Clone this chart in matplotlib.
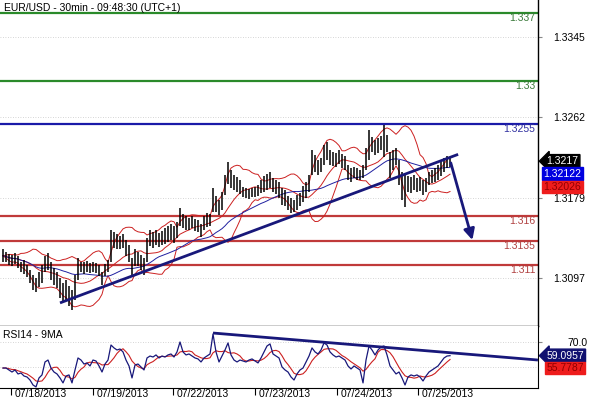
import numpy as np
import pandas as pd
import matplotlib
matplotlib.use("Agg")
import matplotlib.pyplot as plt

plt.rcParams['font.family'] = ['Liberation Sans', 'DejaVu Sans']

# EUR/USD 30min bars (one bar every ~3 px)
highs = [
    1.3126, 1.3123, 1.3121, 1.3120, 1.3122, 1.3119, 1.3113, 1.3115, 1.3110, 1.3105,
    1.3100, 1.3097, 1.3103, 1.3110, 1.3119, 1.3122, 1.3113, 1.3107, 1.3103, 1.3097,
    1.3092, 1.3095, 1.3088, 1.3084, 1.3100, 1.3117, 1.3113, 1.3113, 1.3114, 1.3112,
    1.3113, 1.3112, 1.3110, 1.3103, 1.3111, 1.3115, 1.3146, 1.3144, 1.3142, 1.3140,
    1.3142, 1.3136, 1.3131, 1.3117, 1.3126, 1.3123, 1.3120, 1.3117, 1.3138, 1.3146,
    1.3144, 1.3146, 1.3143, 1.3145, 1.3148, 1.3150, 1.3152, 1.3150, 1.3154, 1.3169,
    1.3163, 1.3160, 1.3158, 1.3161, 1.3157, 1.3156, 1.3152, 1.3161, 1.3164, 1.3163,
    1.3189, 1.3181, 1.3177, 1.3185, 1.3203, 1.3216, 1.3208, 1.3203, 1.3201, 1.3198,
    1.3190, 1.3189, 1.3188, 1.3189, 1.3190, 1.3192, 1.3198, 1.3202, 1.3204, 1.3206,
    1.3200, 1.3198, 1.3196, 1.3189, 1.3187, 1.3181, 1.3179, 1.3177, 1.3182, 1.3184,
    1.3191, 1.3196, 1.3203, 1.3229, 1.3223, 1.3218, 1.3220, 1.3234, 1.3237, 1.3229,
    1.3226, 1.3225, 1.3229, 1.3224, 1.3222, 1.3213, 1.3210, 1.3211, 1.3210, 1.3208,
    1.3213, 1.3231, 1.3249, 1.3242, 1.3239, 1.3241, 1.3243, 1.3254, 1.3244, 1.3226,
    1.3229, 1.3231, 1.3218, 1.3206, 1.3203, 1.3202, 1.3201, 1.3203, 1.3200, 1.3201,
    1.3198, 1.3200, 1.3206, 1.3208, 1.3210, 1.3213, 1.3218, 1.3220, 1.3222, 1.3221,
]
lows = [
    1.3113, 1.3113, 1.3110, 1.3109, 1.3111, 1.3107, 1.3103, 1.3101, 1.3098, 1.3092,
    1.3084, 1.3082, 1.3087, 1.3092, 1.3103, 1.3105, 1.3095, 1.3089, 1.3086, 1.3076,
    1.3072, 1.3074, 1.3068, 1.3064, 1.3074, 1.3095, 1.3103, 1.3101, 1.3103, 1.3102,
    1.3103, 1.3102, 1.3099, 1.3089, 1.3099, 1.3103, 1.3113, 1.3128, 1.3126, 1.3126,
    1.3128, 1.3119, 1.3113, 1.3098, 1.3109, 1.3109, 1.3105, 1.3100, 1.3113, 1.3130,
    1.3128, 1.3131, 1.3129, 1.3131, 1.3132, 1.3134, 1.3136, 1.3133, 1.3138, 1.3150,
    1.3148, 1.3146, 1.3146, 1.3148, 1.3145, 1.3144, 1.3139, 1.3146, 1.3149, 1.3150,
    1.3165, 1.3165, 1.3162, 1.3167, 1.3182, 1.3193, 1.3189, 1.3187, 1.3185, 1.3183,
    1.3180, 1.3179, 1.3178, 1.3180, 1.3180, 1.3181, 1.3184, 1.3185, 1.3187, 1.3189,
    1.3185, 1.3183, 1.3179, 1.3172, 1.3171, 1.3167, 1.3164, 1.3165, 1.3167, 1.3171,
    1.3175, 1.3179, 1.3185, 1.3203, 1.3206, 1.3203, 1.3206, 1.3213, 1.3218, 1.3213,
    1.3212, 1.3211, 1.3214, 1.3210, 1.3208, 1.3198, 1.3196, 1.3200, 1.3198, 1.3198,
    1.3200, 1.3208, 1.3218, 1.3226, 1.3223, 1.3225, 1.3229, 1.3221, 1.3226, 1.3200,
    1.3208, 1.3213, 1.3192, 1.3177, 1.3170, 1.3185, 1.3184, 1.3187, 1.3185, 1.3186,
    1.3182, 1.3185, 1.3192, 1.3194, 1.3196, 1.3198, 1.3202, 1.3206, 1.3210, 1.3211,
]
rsi = [
    48.9, 48.9, 47.3, 45.6, 47.3, 44.0, 44.8, 42.3, 41.5, 39.0,
    34.9, 33.3, 40.7, 43.2, 53.9, 55.5, 48.9, 45.6, 44.0, 40.7,
    36.6, 42.3, 43.2, 36.6, 47.3, 57.2, 55.5, 52.2, 53.1, 50.6,
    55.5, 54.7, 50.6, 45.6, 52.2, 55.5, 67.9, 65.5, 63.8, 64.6,
    62.2, 55.5, 50.6, 40.7, 51.4, 52.2, 49.8, 47.3, 57.2, 58.8,
    58.0, 59.7, 57.2, 58.8, 58.0, 59.7, 60.5, 58.0, 62.2, 70.4,
    62.2, 59.7, 60.5, 58.8, 57.2, 56.4, 53.9, 57.2, 58.8, 60.5,
    77.0, 62.2, 53.9, 58.8, 63.8, 69.6, 59.7, 55.5, 53.9, 55.5,
    54.7, 53.9, 55.5, 56.4, 54.7, 53.1, 57.2, 62.2, 67.1, 68.8,
    60.5, 58.8, 57.2, 49.8, 47.3, 45.6, 41.5, 39.0, 44.0, 47.3,
    48.9, 53.9, 58.8, 65.5, 62.2, 60.5, 63.8, 69.6, 67.9, 62.2,
    59.7, 58.0, 58.8, 57.2, 55.5, 50.6, 48.1, 50.6, 48.9, 47.3,
    36.6, 55.5, 67.1, 63.8, 59.7, 63.8, 66.3, 67.1, 59.7, 50.6,
    47.3, 44.0, 45.6, 40.7, 34.9, 41.5, 43.2, 42.3, 43.2, 41.5,
    38.2, 42.3, 45.6, 47.3, 48.9, 50.6, 53.9, 57.2, 58.8, 59.1,
]

green_levels = [1.337, 1.33]
blue_levels = [1.3255]
red_levels = [1.316, 1.3135, 1.311]
price_ticks = [1.3345, 1.3262, 1.3179, 1.3097]
rsi_ticks = [70.0]
rsi_grid = [70.0, 50.0]
date_labels = ['07/18/2013', '07/19/2013', '07/22/2013', '07/23/2013', '07/24/2013', '07/25/2013']
date_bars = [2.7, 30.0, 56.7, 84.0, 111.3, 138.3]

# hand drawn lines (bar index, value)
support_x = [19, 151.7]
support_y = [1.3071, 1.3224]
arrow_start = (149, 1.3218)
arrow_end = (156.7, 1.3133)
rsi_trend_x = [70, 178.3]
rsi_trend_y = [77.8, 55.5]

last_price = '1.3217'
ma_last = '1.32122'
bb_last = '1.32026'
rsi_last = '59.0957'
rsi_ma_last = '55.7787'

navy = '#18187a'
red = '#c03a3a'
green = '#2a8a2a'
blue = '#1a1aa8'

x = np.arange(len(highs))
mid = (np.array(highs) + np.array(lows)) / 2
s = pd.Series(mid)
bb_mid = s.rolling(11, min_periods=1).mean()
bb_std = s.rolling(11, min_periods=1).std(ddof=0)
slow_ma = s.rolling(28, min_periods=1).mean()
rsi_ma = pd.Series(rsi).rolling(5, min_periods=1).mean()

fig = plt.figure(figsize=(5.9, 4.0), dpi=100)
ax = fig.add_axes([0, 0.185, 0.9119, 0.815])
ax2 = fig.add_axes([0, 0.03, 0.9119, 0.155])

# price panel
ax.vlines(x, lows, highs, color='black', lw=1.1, zorder=3)
ax.plot(x, bb_mid + 2 * bb_std, color='#cc2020', lw=0.7, zorder=2)
ax.plot(x, bb_mid, color='#cc2020', lw=0.7, zorder=2)
ax.plot(x, bb_mid - 2 * bb_std, color='#cc2020', lw=0.7, zorder=2)
ax.plot(x, slow_ma, color='#2020a0', lw=0.7, zorder=2)

for lv in green_levels:
    ax.axhline(lv, color=green, lw=1.6, zorder=1)
    ax.text(0.995, lv, f'{lv:g}', color='#3a7a3a', fontsize=7.5, ha='right', va='top',
            transform=ax.get_yaxis_transform())
for lv in blue_levels:
    ax.axhline(lv, color=blue, lw=1.6, zorder=1)
    ax.text(0.995, lv, f'{lv:g}', color='#3030a0', fontsize=7.5, ha='right', va='top',
            transform=ax.get_yaxis_transform())
for lv in red_levels:
    ax.axhline(lv, color=red, lw=1.6, zorder=1)
    ax.text(0.995, lv, f'{lv:g}', color='#b04040', fontsize=7.5, ha='right', va='top',
            transform=ax.get_yaxis_transform())

ax.plot(support_x, support_y, color=navy, lw=2.0, zorder=4, solid_capstyle='butt')
ax.annotate('', xy=arrow_end, xytext=arrow_start, zorder=4,
            arrowprops=dict(arrowstyle='-|>', color=navy, lw=2.0, mutation_scale=16))

ax.set_xlim(-1, 178.33)
ax.set_ylim(1.30472, 1.33830)
ax.set_yticks(price_ticks)
ax.set_yticklabels([f'{t:.4f}' for t in price_ticks])
ax.yaxis.tick_right()
ax.tick_params(axis='y', length=3, pad=8, labelsize=7.5, color='#888888')
ax.set_xticks([])
for t in price_ticks:
    ax.axhline(t, color='#c8c8c8', lw=0.6, ls=(0, (1, 2)), zorder=0)
for sp in ['left', 'top']:
    ax.spines[sp].set_visible(False)
ax.spines['right'].set_linewidth(1.0)
ax.spines['bottom'].set_linewidth(1.0)

ax.text(0.008, 0.99, 'EUR/USD - 30min - 09:48:30 (UTC+1)', transform=ax.transAxes,
        fontsize=7.5, va='top', ha='left')

# price boxes on the right
ax.annotate(last_price, xy=(1, float(last_price)), xycoords=('axes fraction', 'data'),
            xytext=(6, 0), textcoords='offset points', va='center', ha='left',
            color='white', fontsize=7.5, annotation_clip=False,
            bbox=dict(boxstyle='larrow,pad=0.15', fc='black', ec='black'))
ax.annotate(ma_last, xy=(1, float(last_price)), xycoords=('axes fraction', 'data'),
            xytext=(4, -9), textcoords='offset points', va='center', ha='left',
            color='white', fontsize=7.5, annotation_clip=False,
            bbox=dict(boxstyle='square,pad=0.12', fc='#0000e0', ec='#0000e0'))
ax.annotate(bb_last, xy=(1, float(last_price)), xycoords=('axes fraction', 'data'),
            xytext=(4, -18.5), textcoords='offset points', va='center', ha='left',
            color='#900000', fontsize=7.5, annotation_clip=False,
            bbox=dict(boxstyle='square,pad=0.12', fc='#ee1c1c', ec='#ee1c1c'))

# RSI panel
ax2.plot(x, rsi, color=navy, lw=0.9, zorder=3)
ax2.plot(x, rsi_ma, color='#cc2020', lw=0.8, zorder=2)
ax2.plot(rsi_trend_x, rsi_trend_y, color=navy, lw=2.0, zorder=4, solid_capstyle='butt')
for g in rsi_grid:
    ax2.axhline(g, color='#c8c8c8', lw=0.6, ls=(0, (1, 2)), zorder=0)
ax2.set_xlim(-1, 178.33)
ax2.set_ylim(32.4, 83.6)
ax2.set_yticks(rsi_ticks)
ax2.set_yticklabels([f'{t:.1f}' for t in rsi_ticks])
ax2.yaxis.tick_right()
ax2.tick_params(axis='y', length=3, pad=18, labelsize=7.5, color='#888888')
ax2.set_xticks(date_bars)
ax2.set_xticklabels([''] * len(date_bars))
ax2.tick_params(axis='x', length=5, width=0.8, direction='out')
for pos, lbl in zip(date_bars, date_labels):
    ax2.annotate(lbl, xy=(pos, 0), xycoords=('data', 'axes fraction'), xytext=(2.5, -0.5),
                 textcoords='offset points', ha='left', va='top', fontsize=7.5,
                 annotation_clip=False)
ax2.spines['left'].set_visible(False)
ax2.spines['top'].set_visible(False)
ax2.text(0.005, 0.93, 'RSI14 - 9MA', transform=ax2.transAxes, fontsize=7.5, va='top', ha='left')

ax2.annotate(rsi_last, xy=(1, float(rsi_last)), xycoords=('axes fraction', 'data'),
             xytext=(6, 0), textcoords='offset points', va='center', ha='left',
             color='white', fontsize=7.5, annotation_clip=False,
             bbox=dict(boxstyle='larrow,pad=0.15', fc='#101070', ec='#101070'))
ax2.annotate(rsi_ma_last, xy=(1, float(rsi_last)), xycoords=('axes fraction', 'data'),
             xytext=(6, -9), textcoords='offset points', va='center', ha='left',
             color='#900000', fontsize=7.5, annotation_clip=False,
             bbox=dict(boxstyle='square,pad=0.12', fc='#ee1c1c', ec='#ee1c1c'))

fig.savefig('out.png', dpi=100)
